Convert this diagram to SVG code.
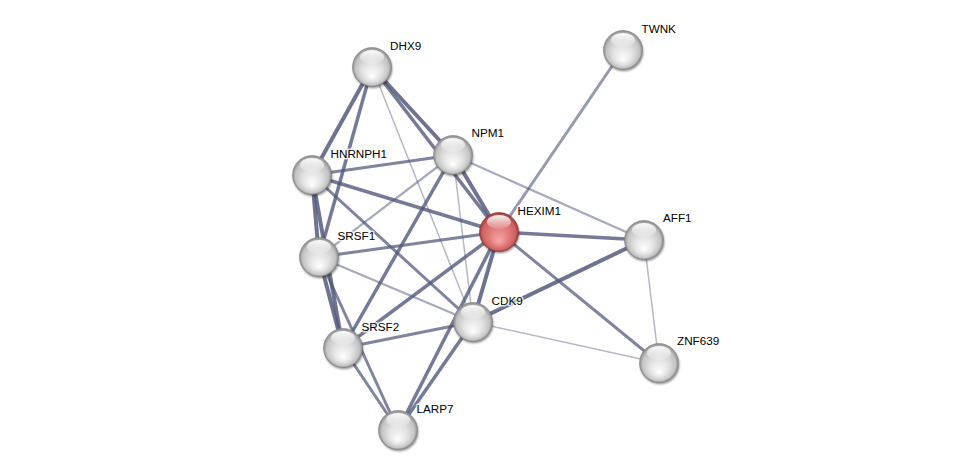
<svg xmlns="http://www.w3.org/2000/svg" xmlns:xlink="http://www.w3.org/1999/xlink" width="975" height="475" viewBox="0 0 975 475">
<style>
.e{stroke:#4e5678;fill:none;stroke-linecap:butt}
.e5{stroke-width:4;stroke-opacity:.82}
.e4{stroke-width:3.5;stroke-opacity:.78}
.e3{stroke-width:3;stroke-opacity:.72}
.e2{stroke-width:2.2;stroke-opacity:.5}
.e1{stroke-width:1.5;stroke-opacity:.42}
.tw{stroke-width:3;stroke-opacity:.6}
.lbl{font-family:"Liberation Sans",Arial,sans-serif;font-size:11.7px;fill:#000;stroke:#fff;stroke-width:3;stroke-opacity:.75;stroke-linejoin:round;paint-order:stroke}
</style>
<defs>
<filter id="blur" x="-30%" y="-30%" width="160%" height="160%"><feGaussianBlur stdDeviation="1.2"/></filter>
<radialGradient id="gBody" cx="50%" cy="50%" r="50%" fx="50%" fy="75%">
<stop offset="0" stop-color="#ffffff"/>
<stop offset="0.5" stop-color="#e1e1e1"/>
<stop offset="0.85" stop-color="#c3c3c3"/>
<stop offset="1" stop-color="#8a8a8a"/>
</radialGradient>
<radialGradient id="rBody" cx="50%" cy="50%" r="50%" fx="50%" fy="75%">
<stop offset="0" stop-color="#f8a8a8"/>
<stop offset="0.5" stop-color="#e27c7c"/>
<stop offset="0.85" stop-color="#cd6262"/>
<stop offset="1" stop-color="#9c3a3a"/>
</radialGradient>
<linearGradient id="hl" x1="0" y1="0" x2="0" y2="1">
<stop offset="0" stop-color="#fff" stop-opacity="0.95"/>
<stop offset="1" stop-color="#fff" stop-opacity="0.1"/>
</linearGradient>
<g id="gball">
<circle cx="0.8" cy="1.8" r="19.5" fill="#000" fill-opacity="0.45" filter="url(#blur)"/>
<circle r="19.5" fill="url(#gBody)" stroke="#888" stroke-width="0.6"/>
<ellipse cx="0" cy="-10" rx="12" ry="7" fill="url(#hl)"/>
</g>
<g id="rball">
<circle cx="0.8" cy="1.8" r="19.5" fill="#000" fill-opacity="0.45" filter="url(#blur)"/>
<circle r="19.5" fill="url(#rBody)" stroke="#8e3434" stroke-width="0.6"/>
<ellipse cx="0" cy="-10" rx="12" ry="7" fill="url(#hl)"/>
</g>
</defs>
<rect width="975" height="475" fill="#fff"/>
<g id="edges">
<line class="e e5" x1="372" y1="67" x2="312" y2="175"/>
<line class="e e4" x1="372" y1="67" x2="319" y2="257"/>
<line class="e e5" x1="372" y1="67" x2="453" y2="155"/>
<line class="e e4" x1="372" y1="67" x2="499" y2="232"/>
<line class="e e1" x1="372" y1="67" x2="473" y2="322"/>
<line class="e e3" x1="312" y1="175" x2="453" y2="155"/>
<line class="e e4" x1="312" y1="175" x2="499" y2="232"/>
<line class="e e3" x1="312" y1="175" x2="473" y2="322"/>
<line class="e e5" x1="312" y1="175" x2="319" y2="257"/>
<line class="e e5" x1="312" y1="175" x2="343" y2="348"/>
<line class="e e5" x1="319" y1="257" x2="343" y2="348"/>
<line class="e e3" x1="319" y1="257" x2="398" y2="430"/>
<line class="e e3" x1="343" y1="348" x2="398" y2="430"/>
<line class="e e3" x1="319" y1="257" x2="499" y2="232"/>
<line class="e e2" x1="319" y1="257" x2="473" y2="322"/>
<line class="e e2" x1="319" y1="257" x2="453" y2="155"/>
<line class="e e4" x1="453" y1="155" x2="343" y2="348"/>
<line class="e e5" x1="453" y1="155" x2="499" y2="232"/>
<line class="e e1" x1="453" y1="155" x2="473" y2="322"/>
<line class="e e2" x1="453" y1="155" x2="644" y2="240"/>
<line class="e e4" x1="499" y1="232" x2="343" y2="348"/>
<line class="e e5" x1="499" y1="232" x2="473" y2="322"/>
<line class="e e4" x1="499" y1="232" x2="398" y2="430"/>
<line class="e e4" x1="473" y1="322" x2="398" y2="430"/>
<line class="e e3" x1="473" y1="322" x2="343" y2="348"/>
<line class="e e4" x1="499" y1="232" x2="644" y2="240"/>
<line class="e e3" x1="499" y1="232" x2="659" y2="363"/>
<line class="e tw" x1="499" y1="232" x2="623" y2="50"/>
<line class="e e5" x1="473" y1="322" x2="644" y2="240"/>
<line class="e e1" x1="473" y1="322" x2="659" y2="363"/>
<line class="e e1" x1="644" y1="240" x2="659" y2="363"/>
</g>
<g id="node-DHX9"><use href="#gball" x="372" y="67"/><text class="lbl" x="390" y="50">DHX9</text></g>
<g id="node-TWNK"><use href="#gball" x="623" y="50"/><text class="lbl" x="641.5" y="32.5">TWNK</text></g>
<g id="node-NPM1"><use href="#gball" x="453" y="155"/><text class="lbl" x="471.5" y="137.3">NPM1</text></g>
<g id="node-HNRNPH1"><use href="#gball" x="312" y="175"/><text class="lbl" x="330.5" y="157.5">HNRNPH1</text></g>
<g id="node-HEXIM1"><use href="#rball" x="499" y="232"/><text class="lbl" x="517.5" y="214.5">HEXIM1</text></g>
<g id="node-AFF1"><use href="#gball" x="644" y="240"/><text class="lbl" x="663" y="222">AFF1</text></g>
<g id="node-SRSF1"><use href="#gball" x="319" y="257"/><text class="lbl" x="337.5" y="239.5">SRSF1</text></g>
<g id="node-CDK9"><use href="#gball" x="473" y="322"/><text class="lbl" x="491.5" y="304.5">CDK9</text></g>
<g id="node-SRSF2"><use href="#gball" x="343" y="348"/><text class="lbl" x="361.5" y="330.5">SRSF2</text></g>
<g id="node-ZNF639"><use href="#gball" x="659" y="363"/><text class="lbl" x="677" y="345">ZNF639</text></g>
<g id="node-LARP7"><use href="#gball" x="398" y="430"/><text class="lbl" x="416.5" y="412.5">LARP7</text></g>
</svg>
